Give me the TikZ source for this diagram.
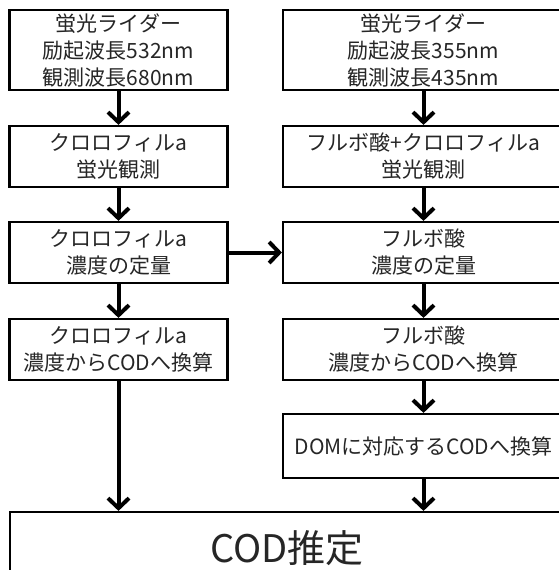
\documentclass[tikz,border=0pt]{standalone}
\usepackage{fontspec}
\setmainfont{Noto Sans CJK JP}
\usetikzlibrary{arrows.meta}

\begin{document}
\begin{tikzpicture}[x=1pt,y=-1pt,
  procbox/.style={draw,line width=2.2pt,align=center,inner sep=2pt,minimum height=61pt,text=black!85,font=\fontsize{21}{27}\selectfont},
  lbox/.style={procbox,minimum width=218pt},
  rbox/.style={procbox,minimum width=281pt},
  flow/.style={line width=4pt,-{Straight Barb[length=10pt,width=21pt]}}]
\useasboundingbox (0,0) rectangle (559,570);
\fill[white] (0,0) rectangle (559,570);
\clip (0,0) rectangle (559,570);

\node[lbox,minimum height=80pt] (l1) at (118.5,50) {蛍光ライダー\\励起波長532nm\\観測波長680nm};
\node[lbox] (l2) at (118.5,156.5) {クロロフィルa\\蛍光観測};
\node[lbox] (l3) at (118.5,252.5) {クロロフィルa\\濃度の定量};
\node[lbox] (l4) at (118.5,349.5) {クロロフィルa\\濃度からCODへ換算};

\node[rbox,minimum height=80pt] (r1) at (423.5,50) {蛍光ライダー\\励起波長355nm\\観測波長435nm};
\node[rbox] (r2) at (423.5,156.5) {フルボ酸+クロロフィルa\\蛍光観測};
\node[rbox] (r3) at (423.5,252.5) {フルボ酸\\濃度の定量};
\node[rbox] (r4) at (423.5,349.5) {フルボ酸\\濃度からCODへ換算};
\node[rbox,minimum height=64pt] (r5) at (423.5,446) {DOMに対応するCODへ換算};

\node[procbox,minimum width=554pt,minimum height=72pt,font=\fontsize{38}{44}\selectfont] (cod) at (287,548) {COD推定};

\foreach \a/\b in {l1/l2,l2/l3,l3/l4,r1/r2,r2/r3,r3/r4,r4/r5}
  \draw[flow] (\a) -- (\b);
\draw[flow] (l3) -- (r3);
\draw[flow] (l4.south) -- (l4.south |- cod.north);
\draw[flow] (r5.south) -- (r5.south |- cod.north);
\end{tikzpicture}
\end{document}
